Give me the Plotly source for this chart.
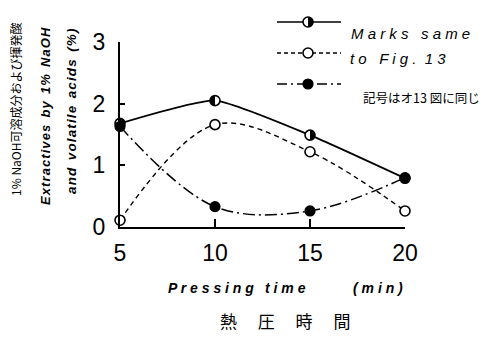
import plotly.graph_objects as go

# ---- data ----
press_time = [5, 10, 15, 20]
naoh_total = [1.68, 2.05, 1.49, 0.79]      # half-filled markers, solid line
naoh_part = [0.11, 1.66, 1.22, 0.26]       # open markers, dashed line
volatile = [1.63, 0.33, 0.26, 0.80]        # filled markers, dash-dot line
half_side = ["right", "left", "right", "right"]
x_ticks = [5, 10, 15, 20]
y_ticks = [0, 1, 2, 3]

# ---- geometry helpers (pixel -> paper) ----
L, R, T, B = 120, 405, 42, 227
W, H = 490, 337
def xp(px):
    return (px - L) / (R - L)
def yp(py):
    return (B - py) / (B - T)

def spaced(s, sep="\u200a"):
    return sep.join(list(s))

fig = go.Figure()

fig.add_trace(go.Scatter(
    x=press_time, y=naoh_total, mode="lines+markers",
    line=dict(color="black", width=1.8, shape="spline", smoothing=0.5),
    marker=dict(symbol="circle", size=10, color="white", line=dict(color="black", width=1.6)),
    cliponaxis=False, showlegend=False))
fig.add_trace(go.Scatter(
    x=press_time, y=naoh_part, mode="lines+markers",
    line=dict(color="black", width=1.4, dash="5px,4px", shape="spline", smoothing=1.0),
    marker=dict(symbol="circle", size=10, color="white", line=dict(color="black", width=1.6)),
    cliponaxis=False, showlegend=False))
fig.add_trace(go.Scatter(
    x=press_time, y=volatile, mode="lines+markers",
    line=dict(color="black", width=1.5, dash="12px,4px,2px,4px", shape="spline", smoothing=1.0),
    marker=dict(symbol="circle", size=10, color="black", line=dict(color="black", width=1.2)),
    cliponaxis=False, showlegend=False))

r = 5.0
k = 0.5523 * r
def half_path(side):
    s = 1 if side == "right" else -1
    return (f"M 0,{-r} C {s*k},{-r} {s*r},{-k} {s*r},0 "
            f"C {s*r},{k} {s*k},{r} 0,{r} Z")

shapes = []
for xv, yv, side in zip(press_time, naoh_total, half_side):
    shapes.append(dict(type="path", xref="x", yref="y", xsizemode="pixel", ysizemode="pixel",
                       xanchor=xv, yanchor=yv, path=half_path(side),
                       fillcolor="black", line=dict(width=0)))

# ---- legend samples (decoration) ----
leg_y = [22, 53, 84]
leg_dash = ["solid", "4px,3px", "10px,4px,2px,4px"]
for py, dash in zip(leg_y, leg_dash):
    shapes.append(dict(type="line", xref="paper", yref="paper",
                       x0=xp(277), x1=xp(341), y0=yp(py), y1=yp(py),
                       line=dict(color="black", width=1.6, dash=dash)))
mx = xp(308)
shapes.append(dict(type="circle", xref="paper", yref="paper", xsizemode="pixel", ysizemode="pixel",
                   xanchor=mx, yanchor=yp(leg_y[0]), x0=-5, x1=5, y0=-5, y1=5,
                   fillcolor="white", line=dict(color="black", width=1.6)))
shapes.append(dict(type="path", xref="paper", yref="paper", xsizemode="pixel", ysizemode="pixel",
                   xanchor=mx, yanchor=yp(leg_y[0]), path=half_path("right"),
                   fillcolor="black", line=dict(width=0)))
shapes.append(dict(type="circle", xref="paper", yref="paper", xsizemode="pixel", ysizemode="pixel",
                   xanchor=mx, yanchor=yp(leg_y[1]), x0=-5, x1=5, y0=-5, y1=5,
                   fillcolor="white", line=dict(color="black", width=1.6)))
shapes.append(dict(type="circle", xref="paper", yref="paper", xsizemode="pixel", ysizemode="pixel",
                   xanchor=mx, yanchor=yp(leg_y[2]), x0=-5, x1=5, y0=-5, y1=5,
                   fillcolor="black", line=dict(color="black", width=1.2)))

ann = []
def A(text, px, py, size, font="Liberation Sans", angle=0, color="black"):
    ann.append(dict(text=text, x=xp(px), y=yp(py), xref="paper", yref="paper",
                    showarrow=False, textangle=angle, xanchor="center", yanchor="middle",
                    font=dict(family=font, size=size, color=color)))

A("<i>M a r k s   s a m e</i>", 410, 33, 15)
A("<i>t o   F i g .  1 3</i>", 398, 58, 15)
A("記号はオ13 図に同じ", 421, 97, 12.5, font="Noto Sans CJK JP")
A("<b><i>P r e s s i n g</i></b>", 211, 288, 14)
A("<b><i>t i m e</i></b>", 285, 288, 14)
A("<b><i>( m i n )</i></b>", 378, 288, 14)
A("熱　 圧　 時　 間", 285, 320, 17, font="Noto Sans CJK JP")
A("<b><i>" + spaced("Extractives") + "  " + spaced("by") + "  " + spaced("1%")
  + "  " + spaced("NaOH") + "</i></b>", 45, 116, 13, angle=-90)
A("<b><i>" + spaced("and") + "  " + spaced("volatile") + "  " + spaced("acids")
  + "  " + spaced("(%)") + "</i></b>", 71, 111, 13.5, angle=-90)
A("1% NaOH可溶成分および揮発酸", 15, 110, 12, font="Noto Sans CJK JP", angle=-90)

fig.update_layout(
    width=W, height=H, autosize=False,
    margin=dict(l=L, r=W - R, t=T, b=H - B, pad=0),
    paper_bgcolor="white", plot_bgcolor="white",
    shapes=shapes, annotations=ann,
    xaxis=dict(range=[5, 20], tickvals=x_ticks, ticktext=[str(v) for v in x_ticks],
               showline=True, linecolor="black", linewidth=2, showgrid=False, zeroline=False,
               ticks="inside", ticklen=8, tickwidth=1.5, tickcolor="black",
               tickfont=dict(family="Liberation Sans", size=23, color="black"),
               ticklabelstandoff=4),
    yaxis=dict(range=[0, 3], tickvals=y_ticks, ticktext=[str(v) for v in y_ticks],
               showline=True, linecolor="black", linewidth=2, showgrid=False, zeroline=False,
               ticks="inside", ticklen=5, tickwidth=1.5, tickcolor="black",
               tickfont=dict(family="Liberation Sans", size=23, color="black"),
               ticklabelstandoff=8),
)

fig.write_html("out.html")
